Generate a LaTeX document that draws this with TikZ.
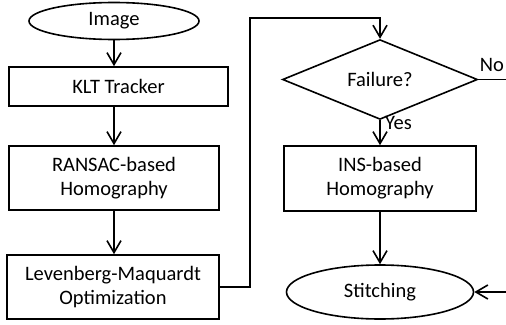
\documentclass[tikz,border=0pt]{standalone}
\usepackage{fontspec}
\setmainfont{Carlito}
\usetikzlibrary{shapes.geometric,arrows.meta}

\tikzset{
  flow/.style={draw, line width=1.6pt, font=\fontsize{20.5}{24}\selectfont, align=center, inner sep=0pt},
  procbox/.style={flow, rectangle},
  terminal/.style={flow, ellipse},
  decision/.style={flow, diamond},
  link/.style={line width=1.6pt, -{Straight Barb[length=12pt,width=14pt,line width=1.6pt]}},
  plain/.style={line width=1.6pt},
  tag/.style={font=\fontsize{20.5}{24}\selectfont, inner sep=0pt}
}

\begin{document}
\begin{tikzpicture}[x=1pt, y=-1pt]
  \useasboundingbox (0,0) rectangle (506,324);

  % left column
  \node[terminal, minimum width=170pt, minimum height=37pt] (img) at (114,21) {Image};
  \node[procbox, minimum width=219pt, minimum height=39pt] (klt) at (118.5,86.5) {KLT Tracker};
  \node[procbox, minimum width=210pt, minimum height=64pt] (ransac) at (114,178) {RANSAC-based\\Homography};
  \node[procbox, minimum width=212pt, minimum height=64pt] (lm) at (113,287) {Levenberg-Maquardt\\Optimization};

  % right column
  \node[decision, minimum width=195pt, minimum height=57pt] (fail) at (380,79.5) {Failure?};
  \node[procbox, minimum width=192pt, minimum height=65pt] (ins) at (380,178.5) {INS-based\\Homography};
  \node[terminal, minimum width=187pt, minimum height=54pt] (stitch) at (380,292) {Stitching};

  % free ends at the right margin
  \coordinate (noend) at (506,79.5);
  \coordinate (inend) at (506,292);
  \coordinate (up) at (250,18);

  % connectors
  \draw[link] (img.south) -- (img.south |- klt.north);
  \draw[link] (img.south |- klt.south) -- (img.south |- ransac.north);
  \draw[link] (ransac.south) -- (ransac.south |- lm.north);
  \draw[link] (lm.east) -| (up) -| (fail.north);
  \draw[link] (fail.south) -- (ins.north);
  \node[tag, anchor=west] (yes) at (385,122.5) {Yes};
  \draw[plain] (fail.east) -- (noend);
  \node[tag] (no) at (492,65) {No};
  \draw[link] (ins.south) -- (stitch.north);
  \draw[link] (inend) -- (stitch.east);
\end{tikzpicture}
\end{document}
